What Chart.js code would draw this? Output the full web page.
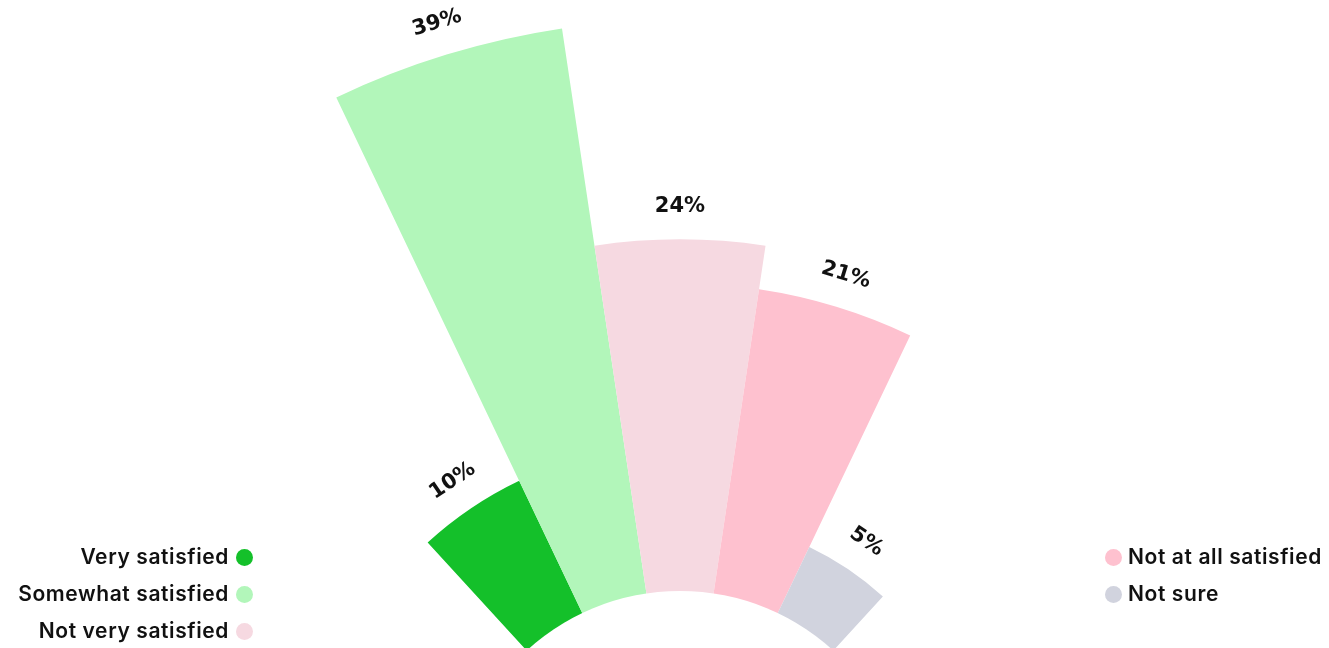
<!DOCTYPE html>
<html>
<head>
<meta charset="utf-8">
<script src="https://cdn.jsdelivr.net/npm/chart.js@4/dist/chart.umd.min.js"></script>
<style>
  html, body { margin: 0; padding: 0; background: #fff; }
  #stage { position: relative; width: 1329px; height: 648px; overflow: hidden; }
  #wrap { position: absolute; left: -138px; top: 0; width: 1636px; height: 1636px; }
  .leg { position: absolute; font-family: Inter, Roboto, sans-serif; font-weight: 600; font-size: 21px; letter-spacing: 0.6px; color: #111; line-height: 24px; white-space: nowrap; display: flex; align-items: center; }
  .dot { width: 17px; height: 17px; border-radius: 50%; display: inline-block; }
  .left { right: calc(1329px - 253px); justify-content: flex-end; }
  .left .dot { margin-left: 7px; }
  .right { left: 1105px; }
  .right .dot { margin-right: 6px; }
</style>
</head>
<body>
<div id="stage">
  <div id="wrap"><canvas id="c" width="1636" height="1636"></canvas></div>
</div>
<script>
const categories = ["Very satisfied", "Somewhat satisfied", "Not very satisfied", "Not at all satisfied", "Not sure"];
const values = [10, 39, 24, 21, 5];
const colors = ["#14c02a", "#b2f6ba", "#f6d9e1", "#fec1cf", "#d1d3de"];
const leftLegend = [0, 1, 2];
const rightLegend = [3, 4];

// legend (HTML text)
const stage = document.getElementById('stage');
function addLegend(idx, side, row) {
  const d = document.createElement('div');
  d.className = 'leg ' + side;
  d.style.top = (545 + row * 37) + 'px';
  const dot = document.createElement('span');
  dot.className = 'dot';
  dot.style.background = colors[idx];
  const t = document.createElement('span');
  t.textContent = categories[idx];
  if (side === 'left') { d.appendChild(t); d.appendChild(dot); }
  else { d.appendChild(dot); d.appendChild(t); }
  stage.appendChild(d);
}
leftLegend.forEach((i, r) => addLegend(i, 'left', r));
rightLegend.forEach((i, r) => addLegend(i, 'right', r));

const holeAndLabels = {
  id: 'holeAndLabels',
  afterDatasetsDraw(chart) {
    const ctx = chart.ctx;
    const scale = chart.scales.r;
    const cx = scale.xCenter, cy = scale.yCenter;
    const holeR = scale.getDistanceFromCenterForValue(0);
    ctx.save();
    ctx.fillStyle = '#ffffff';
    ctx.beginPath();
    ctx.arc(cx, cy, holeR, 0, Math.PI * 2);
    ctx.fill();
    const meta = chart.getDatasetMeta(0);
    ctx.fillStyle = '#111';
    ctx.font = 'bold 21px "DejaVu Sans", sans-serif';
    ctx.textAlign = 'center';
    ctx.textBaseline = 'middle';
    meta.data.forEach((arc, i) => {
      const mid = (arc.startAngle + arc.endAngle) / 2;
      const r = arc.outerRadius + 33;
      const x = cx + r * Math.cos(mid);
      const y = cy + r * Math.sin(mid);
      ctx.save();
      ctx.translate(x, y);
      ctx.rotate(mid + Math.PI / 2);
      ctx.fillText(values[i] + '%', 0, 0);
      ctx.restore();
    });
    ctx.restore();
  }
};

new Chart(document.getElementById('c'), {
  type: 'polarArea',
  data: {
    labels: categories,
    datasets: [{
      data: values,
      backgroundColor: colors,
      borderWidth: 0,
      angle: 17,
      clip: false
    }]
  },
  options: {
    responsive: false,
    devicePixelRatio: 1,
    animation: false,
    layout: { padding: 0 },
    plugins: { legend: { display: false }, tooltip: { enabled: false } },
    scales: {
      r: {
        display: false,
        startAngle: -42.5,
        min: -15.5,
        max: 40.34,
        ticks: { display: false }
      }
    }
  },
  plugins: [holeAndLabels]
});
</script>
</body>
</html>
